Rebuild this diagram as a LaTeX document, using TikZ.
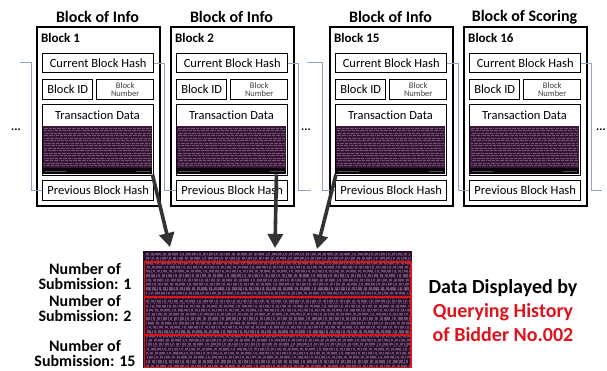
\documentclass[tikz,border=0pt]{standalone}
\usepackage{fontspec}
\setmainfont{Carlito}[Ligatures=NoCommon]
\usetikzlibrary{calc,arrows.meta}
\definecolor{chaincol}{HTML}{8FA3C2}
\definecolor{arrowcol}{HTML}{333333}
\definecolor{termbg}{HTML}{2E0D2C}
\definecolor{termtxt}{HTML}{B0A4C8}
\definecolor{txbg}{HTML}{3A1535}
\definecolor{redbox}{HTML}{E01414}
\definecolor{redtext}{HTML}{E0141E}
\newcommand\MyBlock[4]{%
\begin{scope}[shift={(#1,0)}]
 \node[outer] (#2) at (0,26) {};
 \node[title] (#2title) at (61.5,17) {#3};
 \node[blabel] (#2label) at (5,38) {#4};
 \node[inbox,minimum width=111pt,minimum height=19pt] (#2hash) at (6,53) {Current Block Hash};
 \node[inbox,minimum width=50pt,minimum height=20pt] (#2id) at (6,79) {Block ID};
 \node[inbox,minimum width=57pt,minimum height=20pt,align=center,font=\fontsize{8.5}{8}\selectfont,text=black!75] (#2num) at (60,79) {Block\\Number};
 \node[inbox,minimum width=111pt,minimum height=71pt] (#2tx) at (6,104) {};
 \fill[txbg] (6.7,126) rectangle (116.3,174.3);
 \foreach \yy in {128.5,131,...,166} {\pgfmathsetmacro\ph{mod(\yy*7,9)}\draw[txrow,dash pattern=on 2pt off 0.6pt on 1pt off 0.5pt on 3pt off 1pt on 0.7pt off 0.5pt,dash phase=\ph pt] (8,\yy) -- (115,\yy);}
 \fill[black!80!txbg] (6.7,168.5) rectangle (116.3,174.3);
 \draw[txrow,line width=0.8pt,dash pattern=on 1.5pt off 0.5pt] (9,171) -- (30,171) (100,171) -- (114,171);
 \node[font=\fontsize{12.5}{14}\selectfont] (#2txlabel) at (61.5,115) {Transaction Data};
 \node[inbox,minimum width=111pt,minimum height=20pt] (#2prev) at (6,180) {Previous Block Hash};
\end{scope}}
\begin{document}
\begin{tikzpicture}[x=1pt,y=-1pt,
 outer/.style={draw=black,line width=1.8pt,inner sep=0pt,anchor=north west,minimum width=123pt,minimum height=179pt},
 inbox/.style={draw=black,line width=1.4pt,fill=white,inner sep=0pt,anchor=north west,font=\fontsize{12.5}{14}\selectfont},
 title/.style={font=\bfseries\fontsize{16}{18}\selectfont},
 blabel/.style={font=\bfseries\fontsize{13}{15}\selectfont,anchor=west,inner sep=0pt},
 chain/.style={draw=chaincol,line width=0.8pt},
 bigarrow/.style={draw=arrowcol,line width=3.6pt,-{Triangle[length=14pt,width=15pt]}},
 txrow/.style={draw=termtxt,line width=1pt,opacity=0.45},
 termrow/.style={draw=termtxt,line width=2.2pt,opacity=0.42},
 redframe/.style={draw=redbox,line width=1.3pt},
 sub/.style={font=\bfseries\fontsize{16}{15}\selectfont,align=center},
 dots/.style={font=\bfseries\fontsize{12}{12}\selectfont}
]
\useasboundingbox (0,0) rectangle (607,371);
\fill[white] (0,0) rectangle (607,371);
\MyBlock{36}{b1}{Block of Info}{Block 1}
\MyBlock{170}{b2}{Block of Info}{Block 2}
\MyBlock{329}{b15}{Block of Info}{Block 15}
\MyBlock{463}{b16}{Block of Scoring}{Block 16}
% chain lines
\coordinate (c1) at (20,62.5);
\draw[chain] (c1) -- (31,62.5) |- (b1prev.west);
\draw[chain] (b1hash.east) -- ++(10,0) |- (b2prev.west);
\coordinate (c2) at (311,190);
\draw[chain] (b2hash.east) -- ++(10,0) |- (c2);
\coordinate (c3) at (307,62.5);
\draw[chain] (c3) -- ++(15,0) |- (b15prev.west);
\draw[chain] (b15hash.east) -- ++(11,0) |- (b16prev.west);
\coordinate (c4) at (602,190);
\draw[chain] (b16hash.east) -- ++(10,0) |- (c4);
% dots
\node[dots] (d1) at (16,130) {...};
\node[dots] (d2) at (306,130) {...};
\node[dots] (d3) at (601,130) {...};
% terminal
\node[fill=termbg,inner sep=0pt,anchor=north west,minimum width=269pt,minimum height=117pt] (term) at (143,251) {};
\foreach \yy in {254,258.3,...,366} {\pgfmathsetmacro\ph{mod(\yy*11,13)}\pgfmathsetmacro\pq{mod(\yy*5,7)}%
 \draw[termrow,dash pattern=on 3pt off 0.8pt on 1.5pt off 0.7pt on 4pt off 1.5pt on 1pt off 0.7pt on 2pt off 2pt,dash phase=\ph pt] (146,\yy) -- (410,\yy);
 \draw[termrow,opacity=0.25,line width=1.2pt,dash pattern=on 1pt off 1.3pt on 2.5pt off 0.9pt,dash phase=\pq pt] (146,\yy+1.6) -- (410,\yy+1.6);}
\draw[redframe] ($(term.north west)+(1.5,11)$) rectangle ($(term.north east)+(-1.5,46)$);
\draw[redframe] ($(term.north west)+(1.5,46)$) rectangle ($(term.north east)+(-1.5,84)$);
\draw[redframe] ($(term.north west)+(1.5,84)$) rectangle ($(term.south east)+(-1.5,-1)$);
% arrows
\draw[bigarrow] ($(b1tx.south east)+(-2,-2)$) -- ($(term.north west)+(27,-4)$);
\draw[bigarrow] ($(b2tx.south east)+(-12,-2)$) -- ($(term.north west)+(132,-3)$);
\draw[bigarrow] ($(b15tx.south west)+(1,-2)$) -- ($(term.north west)+(174,-2)$);
% labels
\node[sub] (s1) at (85,276) {Number of\\Submission: 1};
\node[sub] (s2) at (85,308.5) {Number of\\Submission: 2};
\node[sub] (s3) at (85,353) {Number of\\Submission: 15};
\node[font=\bfseries\fontsize{20}{24}\selectfont,align=center] (dd) at (503,311) {Data Displayed by\\\textcolor{redtext}{Querying History}\\\textcolor{redtext}{of Bidder No.002}};
\end{tikzpicture}
\end{document}
